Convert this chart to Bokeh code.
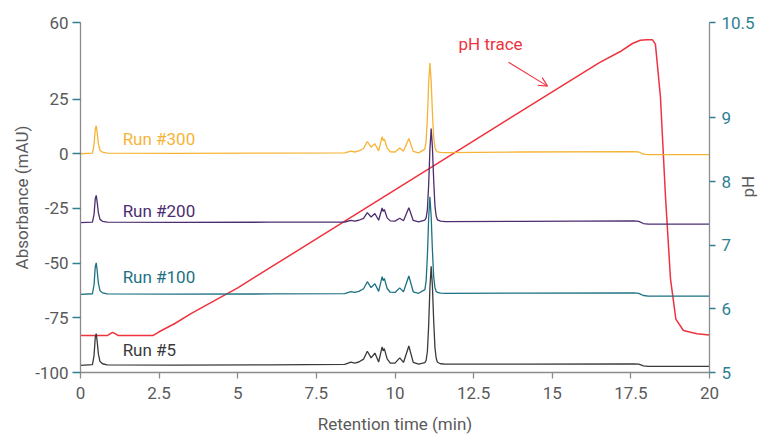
from math import pi

from bokeh.plotting import figure
from bokeh.models import (Range1d, LinearAxis, FixedTicker, NumeralTickFormatter,
                          Label, Arrow, OpenHead)
from bokeh.embed import file_html
from bokeh.resources import INLINE

# ---- data -----------------------------------------------------------------
# retention time grid shared by the four chromatograms (min)
t_min = [0.0, 0.38, 0.43, 0.47, 0.50, 0.53, 0.57, 0.62, 0.70, 0.85,
         3.0, 6.0,
         8.4, 8.6, 8.72, 8.85, 9.0,
         9.12, 9.24, 9.36, 9.48, 9.59, 9.625, 9.66, 9.75, 9.85,
         10.0, 10.15, 10.27, 10.44, 10.58, 10.75,
         10.95, 10.99, 11.03, 11.07, 11.11, 11.15, 11.19, 11.23, 11.27, 11.31, 11.35, 11.45, 11.6,
         14.0, 17.6, 17.75, 17.9, 18.05, 20.0]

# absorbance above each run's own baseline (mAU)
run_300 = [0.0, 0.3, 4.0, 11.3, 12.8, 9.6, 4.5, 1.6, 0.7, 0.3,
           0.2, 0.3,
           0.4, 1.2, 0.8, 1.3, 2.4,
           5.6, 3.0, 4.6, 1.3, 7.8, 6.0, 6.8, 2.6, 0.9,
           0.8, 2.6, 1.1, 7.0, 1.1, 0.4,
           2.1, 5.8, 16.6, 32.4, 41.5, 33.2, 18.7, 7.5, 2.9, 1.3, 0.9, 0.6, 0.5,
           0.8, 1.0, 0.8, -0.2, -0.4, -0.4]
run_200 = [0.0, 0.25, 3.8, 11.0, 12.5, 9.4, 4.4, 1.5, 0.6, 0.2,
           0.1, 0.2,
           0.3, 1.0, 0.7, 1.1, 2.0,
           4.6, 2.6, 4.2, 1.1, 6.7, 5.2, 6.0, 2.2, 0.8,
           0.7, 2.0, 0.9, 6.8, 1.0, 0.4,
           1.2, 2.2, 6.0, 17.2, 33.5, 43.0, 34.4, 19.4, 7.7, 3.0, 1.3, 0.7, 0.5,
           0.6, 0.8, 0.6, -0.4, -0.7, -0.7]
run_100 = [0.0, 0.3, 4.3, 12.7, 14.4, 10.8, 5.0, 1.7, 0.7, 0.2,
           0.1, 0.2,
           0.4, 1.3, 0.9, 1.4, 2.6,
           5.8, 3.1, 4.9, 1.4, 8.1, 6.3, 7.3, 2.7, 1.0,
           0.9, 3.0, 1.2, 8.4, 1.2, 0.5,
           2.2, 6.2, 17.8, 34.8, 44.6, 35.7, 20.1, 8.0, 3.1, 1.3, 0.9, 0.6, 0.5,
           0.6, 0.7, 0.5, -0.5, -0.8, -0.8]
run_5 = [0.0, 0.3, 4.4, 12.8, 14.5, 10.9, 5.1, 1.7, 0.7, 0.2,
         0.1, 0.2,
         0.4, 1.4, 1.0, 1.5, 2.8,
         6.4, 3.4, 5.6, 1.5, 8.4, 6.6, 7.6, 2.9, 1.0,
         1.0, 3.4, 1.3, 8.8, 1.3, 0.5,
         1.2, 2.3, 6.3, 18.1, 35.3, 45.2, 36.2, 20.3, 8.1, 3.2, 1.4, 0.7, 0.5,
         0.5, 0.6, 0.5, -0.3, -0.5, -0.5]

run_names = ["Run #300", "Run #200", "Run #100", "Run #5"]
run_offsets = [0.0, -31.5, -64.3, -96.7]          # stacking offsets (mAU)
run_signals = [run_300, run_200, run_100, run_5]

# pH gradient trace
ph_t = [0.0, 0.85, 0.95, 1.02, 1.1, 1.2, 2.3, 2.5, 3.0, 3.5, 4.0, 5.0, 7.5, 10.0,
        12.5, 15.0, 16.5, 17.15, 17.55, 17.8, 18.0, 18.18, 18.28, 18.44, 18.6,
        18.76, 18.93, 19.17, 19.6, 20.0]
ph_val = [5.58, 5.58, 5.61, 5.63, 5.61, 5.58, 5.58, 5.64, 5.77, 5.92, 6.06, 6.33, 7.10, 7.87,
          8.64, 9.41, 9.87, 10.04, 10.17, 10.22, 10.23, 10.23, 10.16, 9.33, 7.77,
          6.47, 5.84, 5.66, 5.61, 5.59]

x_ticks = [0, 2.5, 5, 7.5, 10, 12.5, 15, 17.5, 20]
abs_ticks = [-100, -75, -50, -25, 0, 25, 60]
ph_ticks = [5, 6, 7, 8, 9, 10.5]

# ---- styling --------------------------------------------------------------
FONT = "Roboto"
TEXT = "#5a5a5a"
AXIS = "#8c8c8c"
TEAL_TICK = "#2f8091"
COLORS = ["#f6b436", "#4d2c70", "#1c7182", "#3a3a3a"]
RED = "#ee323e"

p = figure(width=770, height=436, x_range=Range1d(0, 20), y_range=Range1d(-100, 60),
           output_backend="svg", toolbar_location=None,
           min_border_left=80, min_border_right=61, min_border_top=22, min_border_bottom=62)
p.extra_y_ranges = {"ph": Range1d(5, 10.5)}
p.outline_line_color = None
p.xgrid.visible = False
p.ygrid.visible = False
p.background_fill_color = "white"

x_axis = p.below[0]
abs_axis = p.left[0]
ph_axis = LinearAxis(y_range_name="ph")
p.add_layout(ph_axis, "right")

for ax in [x_axis, abs_axis, ph_axis]:
    ax.axis_line_color = AXIS
    ax.axis_line_width = 1.3
    ax.major_tick_in = 0
    ax.major_tick_out = 6
    ax.major_tick_line_width = 1.3
    ax.minor_tick_line_color = None
    ax.major_label_text_font = FONT
    ax.major_label_text_font_size = "17px"
    ax.major_label_text_color = TEXT
    ax.axis_label_text_font = FONT
    ax.axis_label_text_font_size = "17px"
    ax.axis_label_text_font_style = "normal"
    ax.axis_label_text_color = TEXT

x_axis.ticker = FixedTicker(ticks=x_ticks)
x_axis.formatter = NumeralTickFormatter(format="0.[0]")
x_axis.major_tick_line_color = AXIS
x_axis.major_label_standoff = 8
x_axis.axis_label = "Retention time (min)"
x_axis.axis_label_standoff = 12

abs_axis.ticker = FixedTicker(ticks=abs_ticks)
abs_axis.formatter = NumeralTickFormatter(format="0")
abs_axis.major_tick_line_color = TEAL_TICK
abs_axis.major_tick_out = 8
abs_axis.major_label_standoff = 4
abs_axis.axis_label = "Absorbance (mAU)"
abs_axis.axis_label_standoff = 0

ph_axis.ticker = FixedTicker(ticks=ph_ticks)
ph_axis.formatter = NumeralTickFormatter(format="0.[0]")
ph_axis.major_tick_line_color = TEAL_TICK
ph_axis.major_label_text_color = TEAL_TICK
ph_axis.major_label_standoff = 6
ph_axis.axis_label = "pH"
ph_axis.axis_label_standoff = -10
# read the right-hand title bottom-to-top, like the left one
if "axis_label_orientation" in ph_axis.properties():
    ph_axis.axis_label_orientation = pi / 2

# ---- traces ---------------------------------------------------------------
p.line(ph_t, ph_val, y_range_name="ph", line_color=RED, line_width=1.5)

for name, sig, off, col in zip(run_names, run_signals, run_offsets, COLORS):
    p.line(t_min, [v + off for v in sig], line_color=col, line_width=1.3)

# run labels
label_pos = [6.8, -26.0, -56.2, -89.5]
for name, y, col in zip(run_names, label_pos, COLORS):
    p.add_layout(Label(x=1.34, y=y, text=name, text_color=col, text_font=FONT,
                       text_font_size="17px", text_baseline="middle"))

# pH trace callout
p.add_layout(Label(x=12.02, y=10.16, y_range_name="ph", text="pH trace", text_color=RED,
                   text_font=FONT, text_font_size="17px", text_baseline="middle"))
p.add_layout(Arrow(end=OpenHead(size=9, line_color=RED, line_width=1.1),
                   x_start=13.61, y_start=9.875, x_end=14.85, y_end=9.5,
                   y_range_name="ph", line_color=RED, line_width=1.1))

open("out.html", "w").write(file_html(p, INLINE))
